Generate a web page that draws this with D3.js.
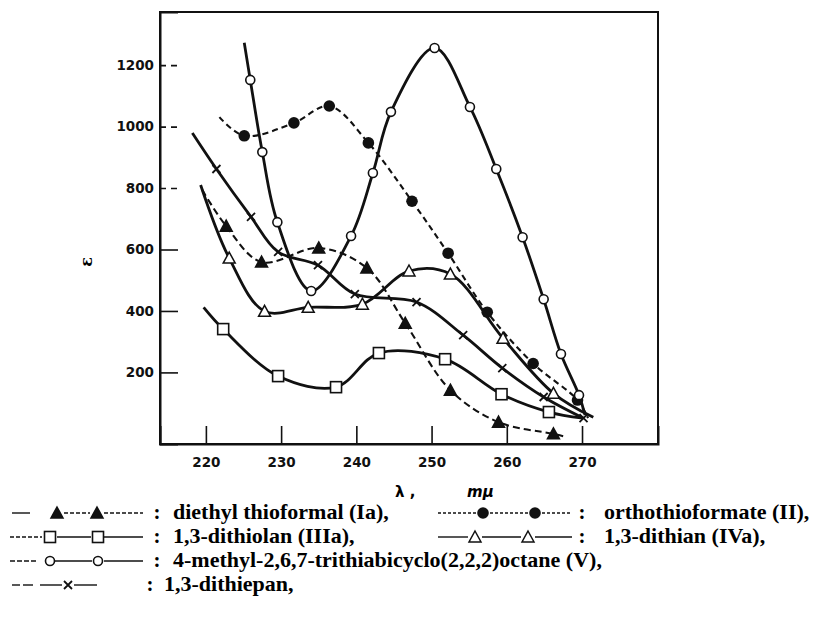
<!DOCTYPE html>
<html>
<head>
<meta charset="utf-8">
<script src="https://cdn.jsdelivr.net/npm/d3@7"></script>
<style>
  body { margin: 0; background: #fff; }
  svg { display: block; }
</style>
</head>
<body>
<script>
// wavelength (m\u03bc) and epsilon, one pair of arrays per compound
var wlIa = [219.5, 222.7, 227.4, 235.0, 241.4, 246.5, 252.5, 258.9, 266.2, 267.5];
var epsIa = [794, 676, 559, 605, 540, 360, 142, 38, 0, -8];

var wlII = [221.8, 225.1, 231.7, 236.4, 241.6, 247.4, 252.2, 257.4, 263.5, 269.4, 270.8];
var epsII = [1031, 970, 1012, 1067, 947, 757, 588, 396, 229, 110, 51];

var wlIIIa = [219.7, 222.3, 229.6, 237.3, 243.0, 251.8, 259.3, 265.6, 270.1];
var epsIIIa = [412, 341, 188, 152, 263, 243, 129, 71, 51];

var wlIVa = [219.3, 223.1, 227.8, 233.6, 240.8, 247.0, 252.5, 259.5, 266.2, 271.5];
var epsIVa = [810, 572, 399, 412, 422, 530, 520, 311, 132, 54];

var wlV = [225.1, 225.9, 227.5, 229.5, 234.0, 239.3, 242.2, 244.6, 250.4, 255.1, 258.6, 262.1, 264.9, 267.2, 269.6, 270.4];
var epsV = [1273, 1152, 917, 689, 465, 644, 849, 1048, 1256, 1064, 862, 640, 438, 260, 126, 61];

var wlDp = [218.2, 221.4, 226.0, 229.6, 234.9, 239.8, 248.0, 254.2, 259.4, 264.9, 270.2];
var epsDp = [979, 862, 706, 592, 549, 455, 429, 321, 214, 120, 51];

var xTicks = [220, 230, 240, 250, 260, 270];
var yTicks = [200, 400, 600, 800, 1000, 1200];

var legendNames = ["diethyl thioformal (Ia),", "orthothioformate (II),",
    "1,3-dithiolan (IIIa),", "1,3-dithian (IVa),",
    "4-methyl-2,6,7-trithiabicyclo(2,2,2)octane (V),", "1,3-dithiepan,"];

var W = 818, H = 629;
var pLeft = 160, pRight = 658, pTop = 12, pBottom = 444;

var svg = d3.select("body").append("svg")
    .attr("width", W)
    .attr("height", H);

var x = d3.scaleLinear().domain([213.9, 280.1]).range([pLeft, pRight]);
var y = d3.scaleLinear().domain([-33, 1373]).range([pBottom, pTop]);

// frame
svg.append("rect")
    .attr("x", pLeft).attr("y", pTop)
    .attr("width", pRight - pLeft).attr("height", pBottom - pTop)
    .attr("fill", "none").attr("stroke", "#111").attr("stroke-width", 2);

var xAxis = svg.append("g")
    .attr("transform", "translate(0," + pBottom + ")")
    .call(d3.axisBottom(x).tickValues(xTicks).tickSize(-18).tickPadding(13));
var yAxis = svg.append("g")
    .attr("transform", "translate(" + pLeft + ",0)")
    .call(d3.axisLeft(y).tickValues(yTicks).tickFormat(d3.format("d")).tickSize(-18).tickPadding(6));

[xAxis, yAxis].forEach(function (g) {
    g.select(".domain").attr("stroke", "#111").attr("stroke-width", 2);
    g.selectAll(".tick line").attr("stroke", "#111").attr("stroke-width", 1.6);
    g.selectAll(".tick text")
        .attr("fill", "#111")
        .style("font-family", "'DejaVu Sans', sans-serif")
        .style("font-weight", "bold")
        .style("font-size", "13.5px");
});
yAxis.selectAll(".tick line")
    .attr("stroke-dasharray", function (d) { return d >= 800 ? "6,5" : null; });

svg.append("text")
    .attr("transform", "translate(92,262) rotate(-90)")
    .attr("text-anchor", "middle")
    .style("font-family", "'DejaVu Serif', serif")
    .style("font-weight", "bold")
    .style("font-size", "16px")
    .text("\u03b5");

svg.append("text").attr("x", 395).attr("y", 497)
    .style("font-family", "'DejaVu Sans', sans-serif").style("font-weight", "bold")
    .style("font-size", "15px").text("\u03bb ,");
svg.append("text").attr("x", 467).attr("y", 497)
    .style("font-family", "'DejaVu Sans', sans-serif").style("font-weight", "bold")
    .style("font-style", "italic")
    .style("font-size", "15px").text("m\u03bc");

var series = [
    { wl: wlIa, eps: epsIa, dash: "7,4", marker: "tri", fill: true, markEnd: false },
    { wl: wlII, eps: epsII, dash: "6,4", marker: "circle", fill: true, markEnd: false },
    { wl: wlIIIa, eps: epsIIIa, dash: null, marker: "square", fill: false, markEnd: false },
    { wl: wlIVa, eps: epsIVa, dash: null, marker: "tri", fill: false, markEnd: false },
    { wl: wlV, eps: epsV, dash: null, marker: "ocircle", fill: false, markEnd: false },
    { wl: wlDp, eps: epsDp, dash: null, marker: "cross", fill: false, markEnd: true }
];

var line = d3.line()
    .x(function (d) { return x(d[0]); })
    .y(function (d) { return y(d[1]); })
    .curve(d3.curveCatmullRom.alpha(0.5));

function drawMarker(g, type, cx, cy) {
    if (type === "circle") {
        g.append("circle").attr("cx", cx).attr("cy", cy).attr("r", 5.8).attr("fill", "#111");
    } else if (type === "ocircle") {
        g.append("circle").attr("cx", cx).attr("cy", cy).attr("r", 4.5)
            .attr("fill", "#fff").attr("stroke", "#111").attr("stroke-width", 1.6);
    } else if (type === "square") {
        g.append("rect").attr("x", cx - 5.5).attr("y", cy - 5.5).attr("width", 11).attr("height", 11)
            .attr("fill", "#fff").attr("stroke", "#111").attr("stroke-width", 1.6);
    } else if (type === "tri") {
        g.append("path")
            .attr("d", "M" + cx + "," + (cy - 6) + "L" + (cx + 6) + "," + (cy + 5) + "L" + (cx - 6) + "," + (cy + 5) + "Z")
            .attr("fill", g.attr("data-fill") === "1" ? "#111" : "#fff")
            .attr("stroke", "#111").attr("stroke-width", 1.5);
    } else if (type === "cross") {
        g.append("path")
            .attr("d", "M" + (cx - 4) + "," + (cy - 4) + "L" + (cx + 4) + "," + (cy + 4) +
                "M" + (cx + 4) + "," + (cy - 4) + "L" + (cx - 4) + "," + (cy + 4))
            .attr("stroke", "#111").attr("stroke-width", 1.8);
    }
}

series.forEach(function (s) {
    var pts = s.wl.map(function (w, i) { return [w, s.eps[i]]; });
    svg.append("path")
        .datum(pts)
        .attr("d", line)
        .attr("fill", "none")
        .attr("stroke", "#111")
        .attr("stroke-width", s.dash ? 2.1 : 2.8)
        .attr("stroke-dasharray", s.dash);
    var g = svg.append("g").attr("data-fill", s.fill ? "1" : "0");
    var last = s.markEnd ? pts.length : pts.length - 1;
    pts.slice(1, last).forEach(function (p) {
        drawMarker(g, s.marker, x(p[0]), y(p[1]));
    });
});

// legend
var rowsY = [513, 537, 561, 585];
var legendItems = [
    { col: 0, row: 0, segs: [[12, 30, null], [64, 90, "4,2"], [104, 143, "4,2"]], marks: [57, 97], type: "tri", fill: true, name: legendNames[0] },
    { col: 1, row: 0, segs: [[438, 476, "3,2"], [490, 528, "3,2"], [542, 570, "3,2"]], marks: [483, 535], type: "circle", fill: true, name: legendNames[1] },
    { col: 0, row: 1, segs: [[10, 42, "4,2"], [57, 91, null], [104, 143, null]], marks: [50, 98], type: "square", fill: false, name: legendNames[2] },
    { col: 1, row: 1, segs: [[438, 468, null], [482, 521, null], [535, 572, null]], marks: [475, 528], type: "tri", fill: false, name: legendNames[3] },
    { col: 0, row: 2, segs: [[10, 38, "5,2"], [55, 92, null], [104, 143, null]], marks: [50, 98], type: "ocircle", fill: false, name: legendNames[4] },
    { col: 0, row: 3, segs: [[12, 20, null], [23, 33, null], [40, 62, null], [74, 97, null]], marks: [68], type: "cross", fill: false, name: legendNames[5] }
];

var legend = svg.append("g");
legendItems.forEach(function (it) {
    var cy = rowsY[it.row];
    var g = legend.append("g").attr("data-fill", it.fill ? "1" : "0");
    it.segs.forEach(function (sg) {
        g.append("line").attr("x1", sg[0]).attr("x2", sg[1]).attr("y1", cy).attr("y2", cy)
            .attr("stroke", "#111").attr("stroke-width", 1.4)
            .attr("stroke-dasharray", sg[2]);
    });
    it.marks.forEach(function (mx) {
        drawMarker(g, it.type, mx, cy);
    });
    var cx = it.col === 0 ? (it.row === 3 ? 150 : 157) : 582;
    var tx = it.col === 0 ? (it.row === 3 ? 164 : 173) : 604;
    g.append("text").attr("x", cx).attr("y", cy + 6)
        .attr("text-anchor", "middle")
        .style("font-family", "'Liberation Serif', serif").style("font-weight", "bold")
        .style("font-size", "21px").text(":");
    g.append("text").attr("x", tx).attr("y", cy + 6)
        .style("font-family", "'Liberation Serif', serif").style("font-weight", "bold")
        .style("font-size", "22px").text(it.name);
});
</script>
</body>
</html>
